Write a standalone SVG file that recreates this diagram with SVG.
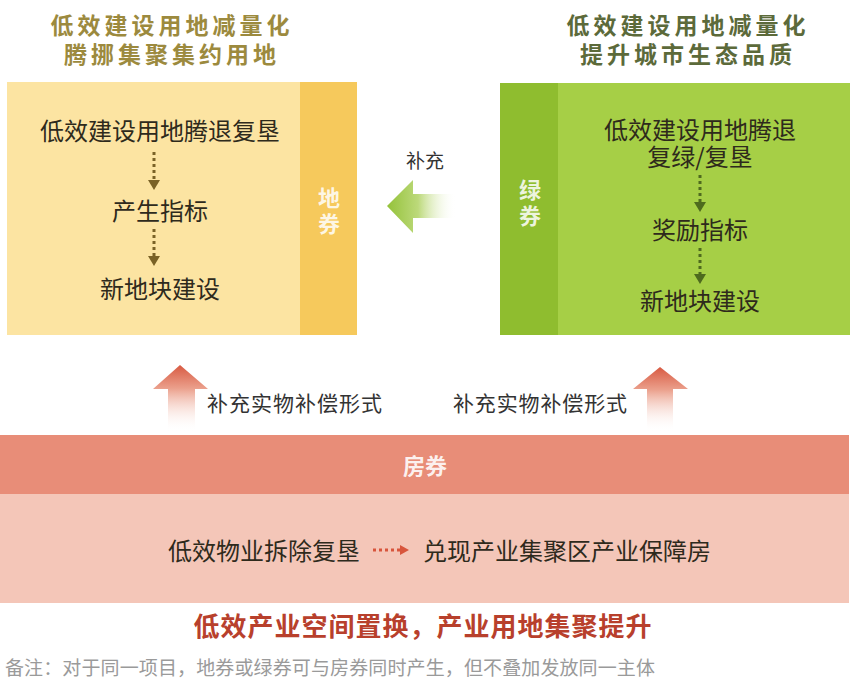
<svg xmlns="http://www.w3.org/2000/svg" width="855" height="688" viewBox="0 0 855 688">
<defs>
<style>
text{font-family:"Noto Sans CJK SC","Noto Sans",sans-serif;}
.title{font-size:23px;font-weight:bold;letter-spacing:4px;text-anchor:middle;}
.box{font-size:24px;fill:#2e2a1c;text-anchor:middle;}
.strip{font-size:22px;fill:#ffffff;fill-opacity:0.85;text-anchor:middle;font-weight:bold;}
.lbl{font-size:21px;fill:#333333;}
</style>
<linearGradient id="gArrow" x1="0" y1="0" x2="1" y2="0">
<stop offset="0" stop-color="#94c23a"/>
<stop offset="0.45" stop-color="#bcd97a"/>
<stop offset="1" stop-color="#ffffff" stop-opacity="0"/>
</linearGradient>
<linearGradient id="rArrow" x1="0" y1="0" x2="0" y2="1">
<stop offset="0" stop-color="#d85a42"/>
<stop offset="0.35" stop-color="#eba08c"/>
<stop offset="1" stop-color="#ffffff" stop-opacity="0"/>
</linearGradient>
</defs>
<rect width="855" height="688" fill="#ffffff"/>

<g id="left-title">
<text class="title" fill="#9c8a3e"><tspan x="172" y="34">低效建设用地减量化</tspan><tspan x="172" y="63">腾挪集聚集约用地</tspan></text>
</g>
<g id="right-title">
<text class="title" fill="#5c6a3a"><tspan x="688" y="34">低效建设用地减量化</tspan><tspan x="688" y="63">提升城市生态品质</tspan></text>
</g>

<g id="land-box">
<rect x="7" y="82" width="295" height="253" fill="#fce4a2"/>
<rect x="300" y="82" width="57" height="253" fill="#f6c95c"/>
<text class="strip"><tspan x="329" y="206">地</tspan><tspan x="329" y="232">券</tspan></text>
<text class="box" x="160" y="140">低效建设用地腾退复垦</text>
<text class="box" x="160" y="220">产生指标</text>
<text class="box" x="160" y="298">新地块建设</text>
</g>

<g id="green-box">
<rect x="500" y="83" width="350" height="252" fill="#a6cf46"/>
<rect x="500" y="83" width="58" height="252" fill="#8fbd2f"/>
<text class="strip"><tspan x="530" y="198">绿</tspan><tspan x="530" y="224">券</tspan></text>
<text class="box"><tspan x="700" y="139">低效建设用地腾退</tspan><tspan x="700" y="166">复绿/复垦</tspan></text>
<text class="box" x="700" y="239">奖励指标</text>
<text class="box" x="700" y="310">新地块建设</text>
</g>

<g id="house-band">
<rect x="0" y="435" width="849" height="60" fill="#e88d78"/>
<rect x="0" y="494" width="849" height="109" fill="#f4c6b8"/>
<text x="425" y="474" font-size="22" font-weight="bold" fill="#ffffff" fill-opacity="0.9" text-anchor="middle">房券</text>
<text class="box" x="264" y="560">低效物业拆除复垦</text>
<text class="box" x="567" y="560">兑现产业集聚区产业保障房</text>
</g>

<g id="connectors">
<g stroke="#7a6226" stroke-width="3" stroke-dasharray="3 3" fill="none">
<line x1="154" y1="152" x2="154" y2="180"/>
<line x1="154" y1="229" x2="154" y2="256"/>
</g>
<g fill="#7a6226">
<polygon points="148,180 160,180 154,190"/>
<polygon points="148,256 160,256 154,266"/>
</g>
<g stroke="#4e6a1e" stroke-width="3" stroke-dasharray="3 3" fill="none">
<line x1="700" y1="175" x2="700" y2="202"/>
<line x1="700" y1="248" x2="700" y2="274"/>
</g>
<g fill="#4e6a1e">
<polygon points="694,202 706,202 700,212"/>
<polygon points="694,274 706,274 700,284"/>
</g>
<line x1="373" y1="550" x2="400" y2="550" stroke="#d8553c" stroke-width="3" stroke-dasharray="3 3"/>
<polygon points="400,545 409,550 400,555" fill="#d8553c"/>
<polygon id="green-arrow" points="387,206 413,180 413,194 456,194 456,218 413,218 413,233" fill="url(#gArrow)"/>
<polygon id="up-left" points="180,365 208,389 195,389 195,432 168,432 168,389 153,389" fill="url(#rArrow)"/>
<polygon id="up-right" points="660,367 688,389 673,389 673,432 647,432 647,389 633,389" fill="url(#rArrow)"/>
</g>

<g id="labels">
<text x="425" y="168" font-size="19" fill="#333333" text-anchor="middle">补充</text>
<text class="lbl" x="207" y="411" textLength="175">补充实物补偿形式</text>
<text class="lbl" x="453" y="411" textLength="174">补充实物补偿形式</text>
<text x="423" y="636" font-size="26" font-weight="bold" fill="#b8402c" text-anchor="middle" letter-spacing="1">低效产业空间置换，产业用地集聚提升</text>
<text x="5" y="675" font-size="19" fill="#9a9a9a" textLength="650">备注：对于同一项目，地券或绿券可与房券同时产生，但不叠加发放同一主体</text>
</g>
</svg>
